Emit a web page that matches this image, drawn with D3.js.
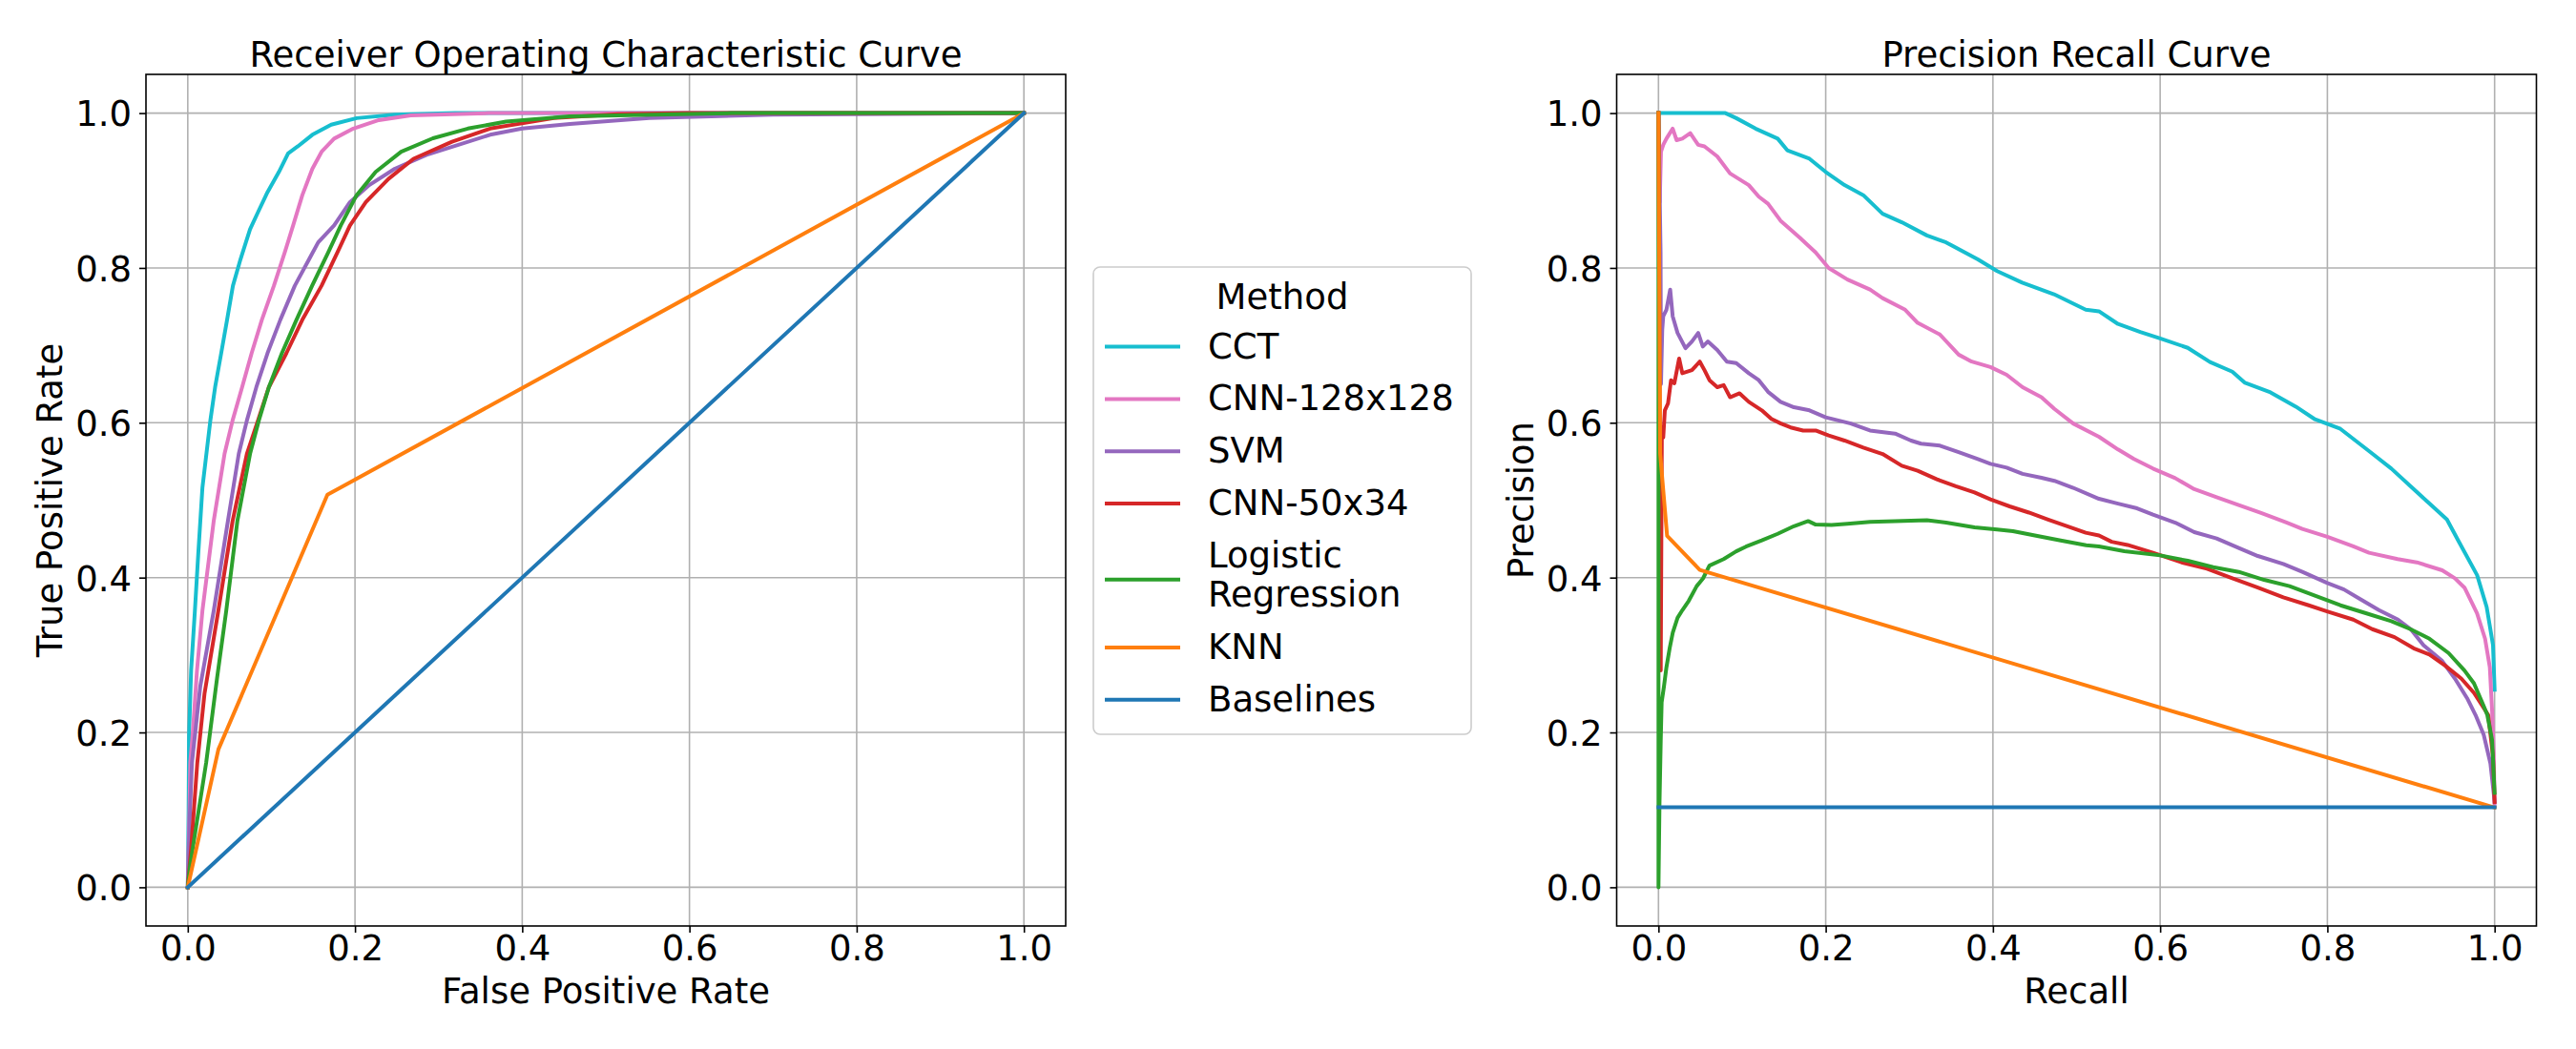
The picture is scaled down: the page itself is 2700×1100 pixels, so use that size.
<!DOCTYPE html>
<html>
<head>
<meta charset="utf-8">
<script src="https://cdn.jsdelivr.net/npm/d3@7"></script>
<style>
  body { margin: 0; background: #fff; }
  svg { display: block; }
  text { font-family: "DejaVu Sans", sans-serif; fill: #000; }
</style>
</head>
<body>
<div id="chart"></div>
<script>
// 1) Data: [x, y] pairs per method
const methods = ["CCT", "CNN-128x128", "SVM", "CNN-50x34", "Logistic\nRegression", "KNN", "Baselines"];
const colors  = ["#17becf", "#e377c2", "#9467bd", "#d62728", "#2ca02c", "#ff7f0e", "#1f77b4"];
const ticks   = [0, 0.2, 0.4, 0.6, 0.8, 1.0];

// ROC: [false positive rate, true positive rate]
const rocCCT = [[0,0],[0.001,0.1],[0.0015,0.196],[0.004,0.28],[0.0085,0.357],[0.0125,0.43],[0.0175,0.516],[0.027,0.603],
  [0.0327,0.646],[0.040,0.69],[0.047,0.733],[0.054,0.777],[0.063,0.811],[0.0745,0.85],[0.084,0.872],[0.0954,0.898],
  [0.109,0.924],[0.120,0.948],[0.1316,0.957],[0.149,0.972],[0.1715,0.985],[0.202,0.9935],[0.2475,0.998],[0.32,1.0],[1,1]];
const rocCNN128 = [[0,0],[0.002,0.1],[0.003,0.161],[0.006,0.2],[0.011,0.28],[0.0175,0.357],[0.031,0.473],[0.044,0.56],
  [0.0536,0.603],[0.065,0.646],[0.0764,0.69],[0.0886,0.733],[0.103,0.777],[0.116,0.82],[0.126,0.855],[0.137,0.894],
  [0.149,0.928],[0.160,0.95],[0.175,0.967],[0.198,0.98],[0.2285,0.991],[0.2666,0.997],[0.36,1.0],[1,1]];
const rocSVM = [[0,0],[0.002,0.08],[0.005,0.161],[0.015,0.26],[0.031,0.357],[0.048,0.473],[0.061,0.56],[0.0707,0.603],
  [0.082,0.646],[0.0954,0.69],[0.1107,0.733],[0.128,0.777],[0.145,0.811],[0.156,0.833],[0.175,0.855],[0.194,0.885],
  [0.217,0.907],[0.2475,0.928],[0.2856,0.946],[0.3236,0.959],[0.3616,0.972],[0.40,0.98],[0.457,0.986],[0.552,0.9935],
  [0.7,0.998],[1,1]];
const rocCNN50 = [[0,0],[0.004,0.05],[0.0114,0.161],[0.02,0.25],[0.0365,0.357],[0.0536,0.473],[0.0707,0.56],[0.084,0.603],
  [0.097,0.646],[0.118,0.69],[0.137,0.733],[0.160,0.777],[0.179,0.82],[0.194,0.855],[0.213,0.885],[0.24,0.915],
  [0.27,0.941],[0.316,0.963],[0.3616,0.98],[0.4377,0.9935],[0.514,0.9987],[0.6,1.0],[1,1]];
const rocLogReg = [[0,0],[0.003,0.03],[0.022,0.161],[0.035,0.27],[0.046,0.357],[0.0593,0.473],[0.0745,0.56],[0.085,0.603],
  [0.097,0.646],[0.1126,0.69],[0.13,0.733],[0.1487,0.777],[0.168,0.82],[0.183,0.855],[0.2019,0.894],[0.2247,0.924],
  [0.2552,0.950],[0.2932,0.9675],[0.335,0.98],[0.3806,0.989],[0.4567,0.9957],[0.65,1.0],[1,1]];
const rocKNN = [[0,0],[0.0366,0.178],[0.167,0.507],[1,1]];
const rocBase = [[0,0],[1,1]];

// PR: [recall, precision]
const prCCT = [[0,1],[0.08,1.0],[0.093,0.9935],[0.116,0.98],[0.1426,0.967],[0.154,0.952],[0.1806,0.941],[0.20,0.924],
  [0.2225,0.907],[0.245,0.894],[0.268,0.870],[0.291,0.859],[0.321,0.842],[0.344,0.833],[0.382,0.811],[0.405,0.796],
  [0.435,0.781],[0.473,0.766],[0.511,0.746],[0.5268,0.744],[0.5496,0.7276],[0.5762,0.7173],[0.600,0.709],[0.633,0.6968],
  [0.6596,0.6784],[0.6863,0.666],[0.7015,0.6516],[0.7319,0.6393],[0.7623,0.6208],[0.7852,0.6044],[0.8156,0.5921],
  [0.8498,0.5634],[0.8765,0.5408],[0.8993,0.5182],[0.9221,0.4956],[0.943,0.475],[0.9563,0.4483],[0.9791,0.4031],
  [0.9905,0.362],[0.9981,0.3128],[1.0,0.2552]];
const prCNN128 = [[0,1],[0.0015,0.885],[0.003,0.95],[0.0057,0.959],[0.0095,0.967],[0.017,0.98],[0.0217,0.965],[0.0285,0.967],
  [0.038,0.974],[0.0475,0.959],[0.055,0.957],[0.0703,0.944],[0.0856,0.922],[0.108,0.907],[0.12,0.892],[0.131,0.883],
  [0.146,0.861],[0.169,0.839],[0.188,0.82],[0.2035,0.80],[0.226,0.785],[0.253,0.772],[0.268,0.761],[0.295,0.746],
  [0.31,0.729],[0.3366,0.714],[0.359,0.688],[0.3746,0.679],[0.397,0.672],[0.4164,0.662],[0.4354,0.646],[0.458,0.633],
  [0.4735,0.618],[0.496,0.599],[0.5268,0.5819],[0.5496,0.5655],[0.5686,0.5532],[0.5914,0.5409],[0.618,0.5285],
  [0.6408,0.5142],[0.6675,0.5039],[0.694,0.4937],[0.7207,0.4834],[0.751,0.4711],[0.770,0.4629],[0.80,0.4527],
  [0.831,0.4403],[0.8498,0.4321],[0.884,0.4239],[0.9069,0.4197],[0.9373,0.4095],[0.9525,0.3992],[0.964,0.387],
  [0.979,0.354],[0.9886,0.3211],[0.9943,0.2841],[0.9973,0.2225],[0.999,0.17],[1.0,0.108]];
const prSVM = [[0,1],[0.0025,0.82],[0.003,0.65],[0.0045,0.72],[0.0057,0.7375],[0.0095,0.746],[0.014,0.772],[0.017,0.7375],
  [0.0228,0.716],[0.0323,0.6963],[0.040,0.705],[0.0475,0.716],[0.053,0.6985],[0.059,0.705],[0.0703,0.694],[0.0818,0.679],
  [0.093,0.677],[0.108,0.664],[0.12,0.655],[0.131,0.640],[0.146,0.627],[0.162,0.620],[0.1806,0.616],[0.20,0.607],
  [0.215,0.603],[0.230,0.599],[0.253,0.590],[0.283,0.586],[0.302,0.577],[0.314,0.573],[0.3366,0.5705],[0.359,0.562],
  [0.382,0.553],[0.397,0.547],[0.4164,0.542],[0.4354,0.534],[0.458,0.529],[0.4735,0.525],[0.496,0.516],[0.5268,0.5018],
  [0.5496,0.4956],[0.5724,0.4895],[0.5914,0.4813],[0.618,0.471],[0.6408,0.4587],[0.6675,0.4505],[0.694,0.4382],
  [0.7168,0.4279],[0.7473,0.4176],[0.770,0.4074],[0.80,0.393],[0.8198,0.3847],[0.8388,0.3724],[0.8616,0.358],
  [0.8845,0.3457],[0.8997,0.3334],[0.9149,0.3128],[0.9373,0.2923],[0.9525,0.2697],[0.9677,0.2431],[0.9772,0.2225],
  [0.987,0.197],[0.995,0.160],[1.0,0.111]];
const prCNN50 = [[0,1],[0.0027,0.28],[0.004,0.58],[0.0057,0.581],[0.0076,0.616],[0.0114,0.625],[0.015,0.655],[0.019,0.651],
  [0.0247,0.683],[0.0285,0.664],[0.040,0.668],[0.0494,0.679],[0.055,0.668],[0.061,0.655],[0.0703,0.646],[0.078,0.6486],
  [0.0856,0.633],[0.097,0.638],[0.108,0.627],[0.1236,0.616],[0.135,0.605],[0.1464,0.599],[0.158,0.594],[0.173,0.590],
  [0.188,0.590],[0.2035,0.5835],[0.2225,0.577],[0.245,0.568],[0.268,0.5597],[0.291,0.5445],[0.31,0.538],[0.333,0.527],
  [0.3556,0.518],[0.378,0.510],[0.397,0.501],[0.420,0.492],[0.443,0.484],[0.466,0.475],[0.489,0.4664],[0.511,0.458],
  [0.5268,0.4545],[0.542,0.4463],[0.561,0.4422],[0.5914,0.432],[0.6256,0.4197],[0.656,0.4114],[0.6863,0.3992],
  [0.7168,0.387],[0.7473,0.3745],[0.7777,0.3642],[0.8005,0.356],[0.831,0.3457],[0.8537,0.3334],[0.8803,0.3231],
  [0.9032,0.3087],[0.9221,0.3005],[0.9411,0.2861],[0.9601,0.2697],[0.9753,0.2512],[0.9924,0.2225],[0.998,0.17],[1.0,0.11]];
const prLogReg = [[0,1],[0,0],[0.0012,0.107],[0.0027,0.19],[0.0038,0.239],[0.0065,0.259],[0.0095,0.284],[0.0134,0.309],
  [0.0171,0.329],[0.0228,0.348],[0.0286,0.358],[0.0362,0.370],[0.0457,0.389],[0.0533,0.399],[0.0609,0.4155],[0.078,0.424],
  [0.093,0.434],[0.1046,0.44],[0.1236,0.448],[0.1426,0.4566],[0.162,0.4664],[0.179,0.473],[0.188,0.4685],[0.207,0.468],
  [0.226,0.4694],[0.253,0.472],[0.283,0.473],[0.321,0.4742],[0.344,0.471],[0.378,0.465],[0.405,0.462],[0.424,0.46],
  [0.4545,0.4534],[0.481,0.448],[0.5115,0.4417],[0.5268,0.4402],[0.5572,0.434],[0.600,0.4287],[0.633,0.4217],
  [0.6634,0.4135],[0.694,0.4074],[0.7243,0.3971],[0.7547,0.389],[0.7852,0.3766],[0.8156,0.3642],[0.846,0.354],
  [0.8765,0.3437],[0.8993,0.3334],[0.9221,0.321],[0.9449,0.3026],[0.964,0.28],[0.9753,0.2635],[0.9867,0.2348],
  [0.9913,0.2225],[0.997,0.19],[1.0,0.122]];
const prKNN = [[0,1],[0.002,0.56],[0.0103,0.454],[0.0494,0.41],[1.0,0.103]];
const prBase = [[0,0.1033],[1,0.1033]];

const rocSeries = [rocCCT, rocCNN128, rocSVM, rocCNN50, rocLogReg, rocKNN, rocBase];
const prSeries  = [prCCT, prCNN128, prSVM, prCNN50, prLogReg, prKNN, prBase];

// 2) Layout
const W = 2700, H = 1100, FS = 37;
const plotW = 964, plotH = 893, plotTop = 78;

const svg = d3.select('#chart').append('svg')
  .attr('width', W).attr('height', H)
  .attr('viewBox', `0 0 ${W} ${H}`);

function drawPanel(left, title, xLabel, yLabel, series) {
  const x = d3.scaleLinear().domain([-0.05, 1.05]).range([left, left + plotW]);
  const y = d3.scaleLinear().domain([-0.05, 1.05]).range([plotTop + plotH, plotTop]);
  const g = svg.append('g');

  // grid
  g.append('g').selectAll('line.gx').data(ticks).enter().append('line')
    .attr('x1', d => x(d)).attr('x2', d => x(d))
    .attr('y1', plotTop).attr('y2', plotTop + plotH)
    .attr('stroke', '#b0b0b0').attr('stroke-width', 1.6);
  g.append('g').selectAll('line.gy').data(ticks).enter().append('line')
    .attr('y1', d => y(d)).attr('y2', d => y(d))
    .attr('x1', left).attr('x2', left + plotW)
    .attr('stroke', '#b0b0b0').attr('stroke-width', 1.6);

  // curves (later ones on top, as plotted)
  const line = d3.line().x(d => x(d[0])).y(d => y(d[1]));
  g.append('g').selectAll('path').data(series).enter().append('path')
    .attr('d', line)
    .attr('fill', 'none')
    .attr('stroke', (d, i) => colors[i])
    .attr('stroke-width', 4)
    .attr('stroke-linejoin', 'round')
    .attr('stroke-linecap', 'square');

  // axes
  const xAxis = g.append('g').attr('transform', `translate(0,${plotTop + plotH})`)
    .call(d3.axisBottom(x).tickValues(ticks).tickSize(7).tickPadding(7).tickFormat(d3.format('.1f')));
  const yAxis = g.append('g').attr('transform', `translate(${left},0)`)
    .call(d3.axisLeft(y).tickValues(ticks).tickSize(7).tickPadding(8).tickFormat(d3.format('.1f')));
  [xAxis, yAxis].forEach(a => {
    a.select('.domain').remove();
    a.selectAll('.tick line').attr('stroke', '#000').attr('stroke-width', 1.6);
    a.selectAll('.tick text').attr('font-size', FS).attr('font-family', '"DejaVu Sans", sans-serif').attr('fill', '#000');
  });
  xAxis.selectAll('.tick text').attr('y', 14).attr('dy', '0.6em');
  yAxis.selectAll('.tick text').attr('dy', '0.36em');

  // frame
  g.append('rect')
    .attr('x', left).attr('y', plotTop).attr('width', plotW).attr('height', plotH)
    .attr('fill', 'none').attr('stroke', '#000').attr('stroke-width', 1.6);

  // texts
  const cx = left + plotW / 2;
  g.append('text').attr('x', cx).attr('y', 70).attr('text-anchor', 'middle')
    .attr('font-size', FS).text(title);
  g.append('text').attr('x', cx).attr('y', 1052).attr('text-anchor', 'middle')
    .attr('font-size', FS).text(xLabel);
  g.append('text')
    .attr('transform', `translate(${left - 88},${plotTop + plotH / 2}) rotate(-90)`)
    .attr('text-anchor', 'middle').attr('font-size', FS).text(yLabel);
}

drawPanel(153, 'Receiver Operating Characteristic Curve', 'False Positive Rate', 'True Positive Rate', rocSeries);
drawPanel(1694.5, 'Precision Recall Curve', 'Recall', 'Precision', prSeries);

// 3) Legend
const lg = svg.append('g');
const box = {x: 1146, y: 280, w: 396, h: 490};
lg.append('rect')
  .attr('x', box.x).attr('y', box.y).attr('width', box.w).attr('height', box.h)
  .attr('rx', 7).attr('ry', 7)
  .attr('fill', '#fff').attr('fill-opacity', 0.8)
  .attr('stroke', '#cccccc').attr('stroke-width', 1.6);
lg.append('text').attr('x', box.x + box.w / 2).attr('y', 324)
  .attr('text-anchor', 'middle').attr('font-size', FS).text('Method');

const rowH = 54.8, lineH = 41.4;
let cy = 363.6 - rowH;
methods.forEach((m, i) => {
  const parts = m.split('\n');
  const extra = (parts.length - 1) * lineH;
  cy += rowH + extra / 2;
  const handleY = parts.length > 1 ? cy + 4.3 : cy;
  lg.append('line')
    .attr('x1', 1158).attr('x2', 1237).attr('y1', handleY).attr('y2', handleY)
    .attr('stroke', colors[i]).attr('stroke-width', 4);
  const t = lg.append('text').attr('font-size', FS);
  parts.forEach((p, j) => {
    t.append('tspan').attr('x', 1266)
      .attr('y', cy + 12 - extra / 2 + j * lineH)
      .text(p);
  });
  cy += extra / 2;
});
</script>
</body>
</html>
